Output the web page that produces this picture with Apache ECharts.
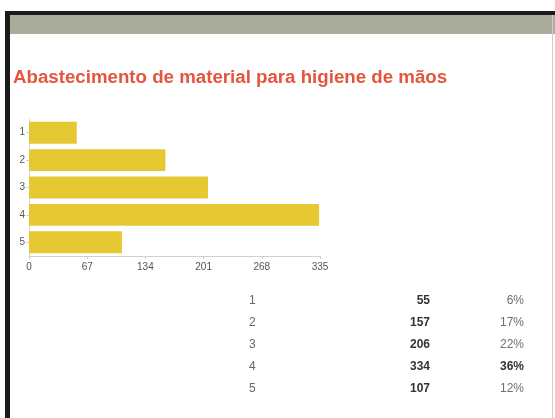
<!DOCTYPE html>
<html>
<head>
<meta charset="utf-8">
<script src="https://cdn.jsdelivr.net/npm/echarts@6/dist/echarts.min.js"></script>
<style>
  html, body { margin: 0; padding: 0; background: #ffffff; }
  #chart { width: 555px; height: 418px; }
</style>
</head>
<body>
<div id="chart"></div>
<script>
// Survey answers: supply of hand-hygiene material, rated 1..5
const categories = ['1', '2', '3', '4', '5'];
const counts = [55, 157, 206, 334, 107];
const percents = ['6%', '17%', '22%', '36%', '12%'];
const tickMax = 335;
const tickStep = 67;
const titleText = 'Abastecimento de material para higiene de mãos';

const chart = echarts.init(document.getElementById('chart'), null, { renderer: 'canvas' });

// Summary table under the chart, one row per category
const tableTop = 301;
const rowStep = 22;
const tableFont = '"Liberation Sans", Arial, sans-serif';
const tableRows = [];
categories.forEach((c, i) => {
  const y = tableTop + i * rowStep;
  const isMax = counts[i] === Math.max.apply(null, counts);
  tableRows.push(
    { type: 'text', x: 249, y: y, style: { text: c, fill: '#666', verticalAlign: 'middle', font: '12px ' + tableFont } },
    { type: 'text', x: 430, y: y, style: { text: String(counts[i]), fill: '#333', align: 'right', verticalAlign: 'middle', font: 'bold 12px ' + tableFont } },
    { type: 'text', x: 524, y: y, style: { text: percents[i], fill: isMax ? '#333' : '#6e6e6e', align: 'right', verticalAlign: 'middle', font: (isMax ? 'bold ' : '') + '12px ' + tableFont } }
  );
});

chart.setOption({
  animation: false,
  backgroundColor: '#ffffff',
  title: {
    text: titleText,
    left: 8,
    top: 63,
    textStyle: { color: '#e4553f', fontSize: 18.7, fontWeight: 'bold', fontFamily: tableFont }
  },
  grid: { left: 29, right: 235, top: 119, bottom: 162 },
  xAxis: {
    type: 'value',
    min: 0,
    max: tickMax,
    interval: tickStep,
    axisLine: { show: true, lineStyle: { color: '#d0d0d0', width: 1 } },
    axisTick: { show: true, length: 3, lineStyle: { color: '#d0d0d0' } },
    splitLine: { show: false },
    axisLabel: { color: '#555', fontSize: 10, margin: 6, fontFamily: tableFont }
  },
  yAxis: {
    type: 'category',
    data: categories,
    inverse: true,
    axisLine: { show: true, lineStyle: { color: '#d8d8d8' } },
    axisTick: { show: true, length: 3, alignWithLabel: true, lineStyle: { color: '#d0d0d0' } },
    axisLabel: { color: '#555', fontSize: 10, margin: 4, fontFamily: tableFont }
  },
  series: [{
    type: 'bar',
    data: counts,
    barCategoryGap: '20%',
    itemStyle: { color: '#e6c832' },
    silent: true
  }],
  graphic: [
    // slide frame: thick dark edge on the left and top, grey header band, thin right edge
    { type: 'rect', shape: { x: 5, y: 11, width: 550, height: 4 }, style: { fill: '#1b1b1b' }, z: 10 },
    { type: 'rect', shape: { x: 5, y: 11, width: 5, height: 407 }, style: { fill: '#1b1b1b' }, z: 10 },
    { type: 'rect', shape: { x: 10, y: 15, width: 545, height: 19 }, style: { fill: '#abad9c' }, z: 9 },
    { type: 'rect', shape: { x: 552, y: 15, width: 1, height: 403 }, style: { fill: '#cfcfcf' }, z: 11 }
  ].concat(tableRows)
});
</script>
</body>
</html>
